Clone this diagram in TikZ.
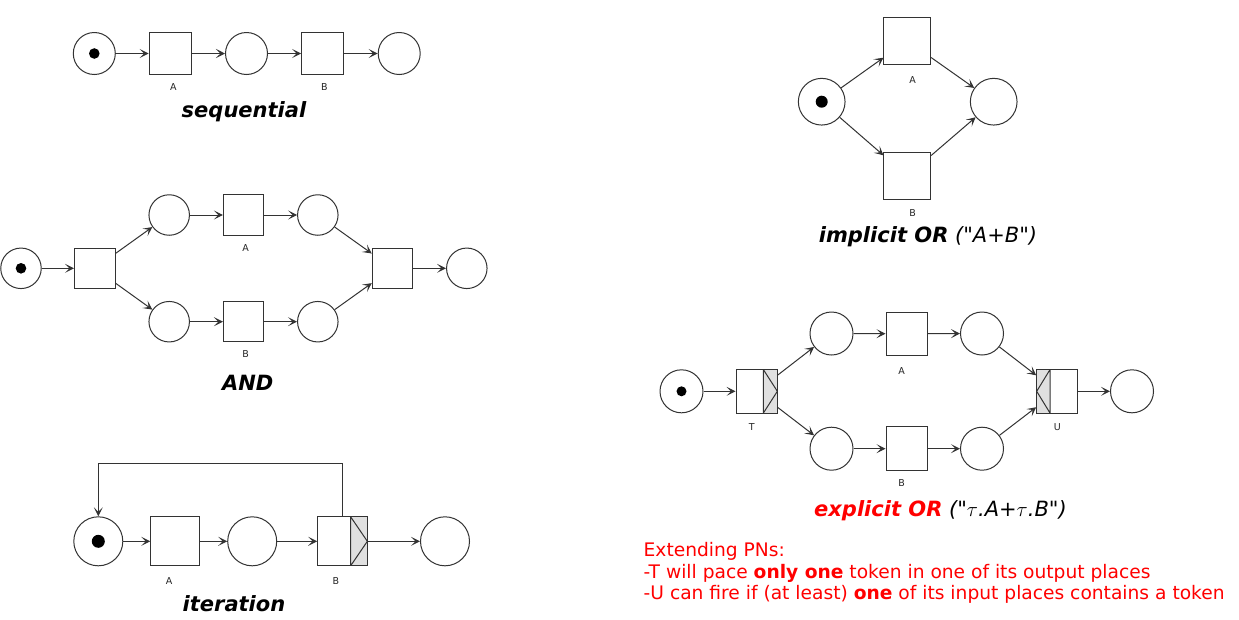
\documentclass[tikz,border=0pt]{standalone}
\usepackage{fontspec}
\setmainfont{DejaVu Sans}[Ligatures=TeXOff]
\usetikzlibrary{arrows.meta}
\definecolor{ln}{HTML}{333333}
\definecolor{grayfill}{HTML}{E0E0E0}
\definecolor{pnred}{HTML}{FF0000}
\begin{document}
\begin{tikzpicture}[x=1pt,y=-1pt,
  place/.style={circle,draw=ln,fill=white,inner sep=0pt,line width=1pt,minimum size=#1},
  trans/.style={rectangle,draw=ln,fill=white,inner sep=0pt,line width=1pt,minimum size=#1},
  token/.style={path picture={\fill[black] (path picture bounding box.center) circle (#1);}},
  grayR/.style={path picture={
      \fill[grayfill] ([xshift=-#1]path picture bounding box.north east) rectangle (path picture bounding box.south east);
      \draw[ln,line width=1pt] ([xshift=-#1]path picture bounding box.north east) -- (path picture bounding box.east) -- ([xshift=-#1]path picture bounding box.south east) -- cycle;}},
  grayL/.style={path picture={
      \fill[grayfill] (path picture bounding box.north west) rectangle ([xshift=#1]path picture bounding box.south west);
      \draw[ln,line width=1pt] ([xshift=#1]path picture bounding box.north west) -- (path picture bounding box.west) -- ([xshift=#1]path picture bounding box.south west) -- cycle;}},
  arr/.style={draw=ln,line width=1pt,-{Stealth[length=9pt,width=9pt,inset=4.5pt]}},
  lbl/.style={font=\fontsize{9.5}{10}\selectfont,text=black!85,inner sep=0pt},
  title/.style={font=\fontsize{21}{24}\selectfont\bfseries\itshape,inner sep=0pt},
  note/.style={anchor=base west,inner sep=0pt,text=pnred,font=\fontsize{18.65}{21.7}\selectfont},
]
\useasboundingbox[fill=white] (0,0) rectangle (1239,619);

% ---------- sequential ----------
\node[place=42pt,token=5.3pt] (s0) at (94.3,53.5) {};
\node[trans=42pt] (sA) at (170.2,53.5) {};
\node[place=42pt] (s1) at (246.5,53.5) {};
\node[trans=42pt] (sB) at (322.7,53.5) {};
\node[place=42pt] (s2) at (399.2,53.5) {};
\draw[arr] (s0) -- (sA);
\draw[arr] (sA) -- (s1);
\draw[arr] (s1) -- (sB);
\draw[arr] (sB) -- (s2);
\node[lbl] (sAl) at (173.3,86.7) {A};
\node[lbl] (sBl) at (324.3,86.7) {B};
\node[title] (seqT) at (244,111.5) {sequential};

% ---------- AND ----------
\node[place=40.5pt,token=5.3pt] (a0) at (21,268.3) {};
\node[trans=40.5pt] (aT) at (94.8,268.3) {};
\node[place=40.5pt] (aP1) at (169.2,215) {};
\node[trans=40.5pt] (aA) at (243.7,215) {};
\node[place=40.5pt] (aP2) at (317.8,215) {};
\node[place=40.5pt] (aQ1) at (169.2,321.7) {};
\node[trans=40.5pt] (aB) at (243.7,321.7) {};
\node[place=40.5pt] (aQ2) at (317.8,321.7) {};
\node[trans=40.5pt] (aJ) at (392.5,268.3) {};
\node[place=40.5pt] (aE) at (466.8,268.3) {};
\draw[arr] (a0) -- (aT);
\draw[arr] (aT) -- (aP1);
\draw[arr] (aT) -- (aQ1);
\draw[arr] (aP1) -- (aA);
\draw[arr] (aA) -- (aP2);
\draw[arr] (aQ1) -- (aB);
\draw[arr] (aB) -- (aQ2);
\draw[arr] (aP2) -- (aJ);
\draw[arr] (aQ2) -- (aJ);
\draw[arr] (aJ) -- (aE);
\node[lbl] (aAl) at (245.7,248.3) {A};
\node[lbl] (aBl) at (245.7,354) {B};
\node[title] (andT) at (247.7,383.3) {AND};

% ---------- iteration ----------
\node[place=49pt,token=6.5pt] (i0) at (98.3,541.3) {};
\node[trans=49pt] (iA) at (175.3,541.3) {};
\node[place=49pt] (i1) at (252.2,541.3) {};
\node[trans=49pt,minimum width=49.7pt,grayR=16.7pt] (iB) at (342.5,541.3) {};
\node[place=49pt] (i2) at (445,541.3) {};
\draw[arr] (i0) -- (iA);
\draw[arr] (iA) -- (i1);
\draw[arr] (i1) -- (iB);
\draw[arr] (iB) -- (i2);
\draw[arr] (iB.north) -- ++(0,-52.4) -| (i0.north);
\node[lbl] (iAl) at (169,580.7) {A};
\node[lbl] (iBl) at (336,580.7) {B};
\node[title] (itT) at (234,603.3) {iteration};

% ---------- implicit OR ----------
\node[place=46.7pt,token=6pt] (o0) at (821.7,101.7) {};
\node[trans=46.7pt] (oA) at (907.3,40.7) {};
\node[trans=46.7pt] (oB) at (907.3,176) {};
\node[place=46.7pt] (oE) at (993.7,101.7) {};
\draw[arr] (o0) -- (oA);
\draw[arr] (o0) -- (oB);
\draw[arr] (oA) -- (oE);
\draw[arr] (oB) -- (oE);
\node[lbl] (oAl) at (912.7,80) {A};
\node[lbl] (oBl) at (912.7,212.7) {B};
\node[inner sep=0pt] (impT) at (928,236.7)
  {\fontsize{21}{24}\selectfont{\bfseries\itshape implicit OR} {\itshape ("A+B")}};

% ---------- explicit OR ----------
\node[place=43pt,token=5pt] (e0) at (681.5,391.3) {};
\node[trans=43.5pt,minimum width=41.3pt,grayR=14pt] (eT) at (756.7,391.3) {};
\node[place=43pt] (eP1) at (831.5,333.5) {};
\node[trans=43.5pt,minimum width=41pt] (eA) at (906.5,333.8) {};
\node[place=43pt] (eP2) at (982,333.5) {};
\node[place=43pt] (eQ1) at (831.5,448.7) {};
\node[trans=43.5pt,minimum width=41pt] (eB) at (906.5,448.7) {};
\node[place=43pt] (eQ2) at (982,448.7) {};
\node[trans=43.5pt,minimum width=40.6pt,grayL=13.3pt] (eU) at (1057,391.3) {};
\node[place=43pt] (eE) at (1132,391.3) {};
\draw[arr] (e0) -- (eT);
\draw[arr] (eT) -- (eP1);
\draw[arr] (eT) -- (eQ1);
\draw[arr] (eP1) -- (eA);
\draw[arr] (eA) -- (eP2);
\draw[arr] (eQ1) -- (eB);
\draw[arr] (eB) -- (eQ2);
\draw[arr] (eP2) -- (eU);
\draw[arr] (eQ2) -- (eU);
\draw[arr] (eU) -- (eE);
\node[lbl] (eTl) at (751.7,427.3) {T};
\node[lbl] (eAl) at (901.7,370.7) {A};
\node[lbl] (eBl) at (901.7,483.3) {B};
\node[lbl] (eUl) at (1057.3,427.3) {U};
\node[inner sep=0pt] (expT) at (940.5,511)
  {\fontsize{21}{24}\selectfont{\color{pnred}\bfseries\itshape explicit OR} {\itshape ("$\tau$.A+$\tau$.B")}};

% ---------- note ----------
\node[note] (note1) at (643.5,556) {Extending PNs:};
\node[note] (note2) at (643.5,578.5) {-T will pace \textbf{only one} token in one of its output places};
\node[note] (note3) at (643.5,599.5) {-U can fire if (at least) \textbf{one} of its input places contains a token};
\end{tikzpicture}
\end{document}
